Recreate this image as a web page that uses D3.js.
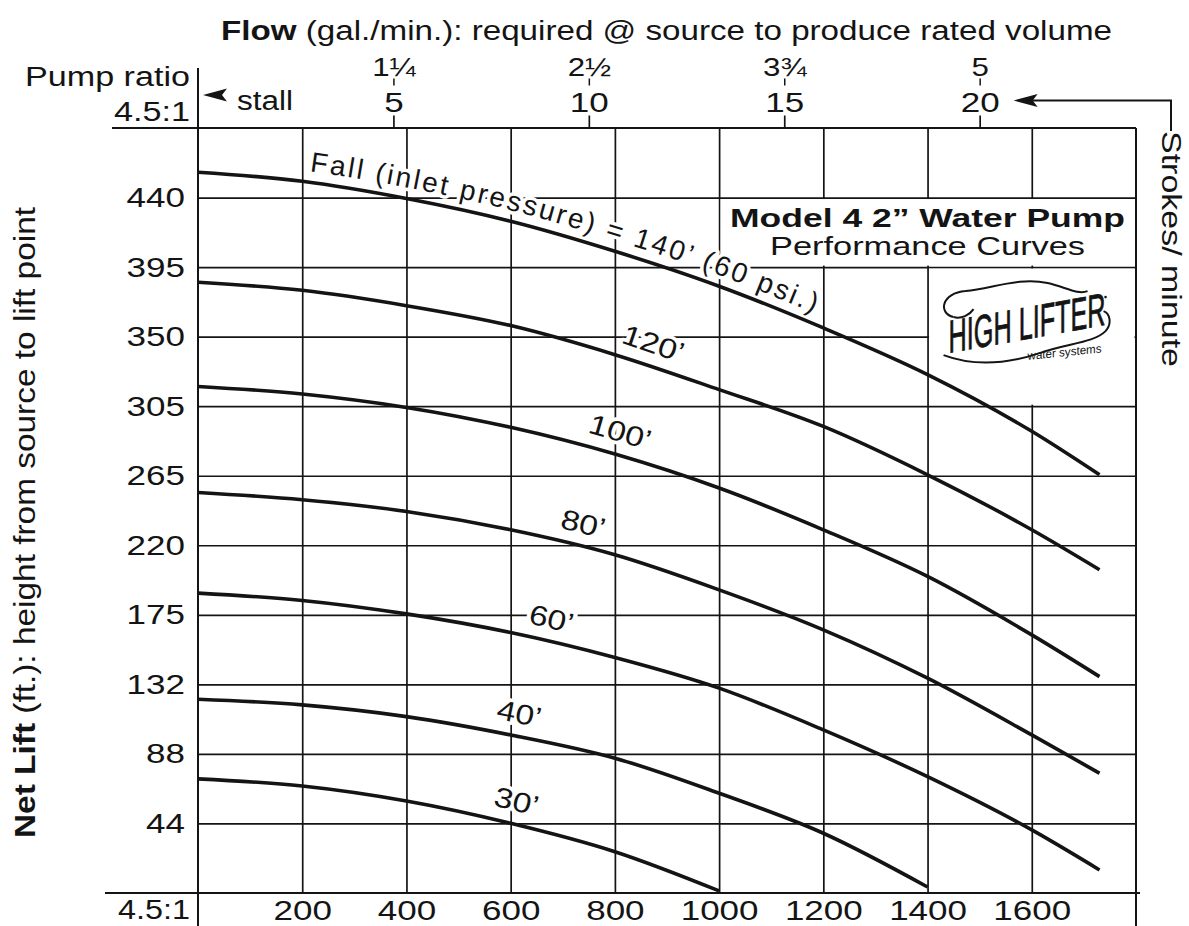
<!DOCTYPE html>
<html>
<head>
<meta charset="utf-8">
<script src="https://cdn.jsdelivr.net/npm/d3@7"></script>
<style>
  html, body { margin: 0; padding: 0; background: #fff; }
  svg { display: block; font-family: "Liberation Sans", Arial, Helvetica, sans-serif; }
</style>
</head>
<body>
<div id="chart"></div>
<script>
// flow positions where the curves were read, and net lift (ft) for each fall curve
const flowPts = [0, 200, 400, 600, 800, 1000, 1200, 1400, 1600, 1730];
const lift140 = [456.0, 450.3, 439.4, 425.0, 406.0, 383.9, 357.5, 328.0, 292.1, 264.6];
const lift120 = [386.4, 381.3, 371.6, 359.0, 340.6, 318.5, 295.2, 264.6, 229.8, 204.5];
const lift100 = [320.5, 315.7, 307.2, 294.6, 277.7, 256.2, 229.8, 200.3, 163.3, 136.9];
const lift80 = [253.4, 248.8, 241.4, 229.8, 214.0, 191.8, 166.5, 135.9, 100.0, 75.8];
const lift60 = [189.7, 185.1, 176.6, 164.8, 149.0, 129.6, 103.2, 73.6, 39.9, 14.6];
const lift40 = [122.6, 119.0, 111.6, 100.0, 85.3, 63.1, 37.8, 3.8];
const lift30 = [72.2, 67.7, 58.2, 44.1, 26.1, 1.3];

const curveLabels = ["120’", "100’", "80’", "60’", "40’", "30’"];
const labelFlow = [860, 798, 729, 668, 608, 601];

// axes
const flowTicks = [200, 400, 600, 800, 1000, 1200, 1400, 1600];
const liftTicks = [44, 88, 132, 176, 220, 264, 308, 352, 396, 440];
const liftLabels = ["44", "88", "132", "175", "220", "265", "305", "350", "395", "440"];
const strokeTicks = [5, 10, 15, 20];
const gpmLabels = ["1¼", "2½", "3¾", "5"];

const W = 1189, H = 926;
const pLeft = 198, pRight = 1136, pTop = 128, pBottom = 893;
const SX = 1.25; // the type in the original is set wide

const x = d3.scaleLinear().domain([0, 1800]).range([pLeft, pRight]);
const y = d3.scaleLinear().domain([0, 484]).range([pBottom, pTop]);
const xs = d3.scaleLinear().domain([0, 24]).range([pLeft, pRight]); // strokes/minute

const svg = d3.select("#chart").append("svg")
    .attr("width", W)
    .attr("height", H);

svg.append("rect").attr("width", W).attr("height", H).attr("fill", "#fff");

const ink = "#141414";

// ---- grid (bottom axis draws the verticals, left axis the horizontals)
const gx = svg.append("g")
    .attr("transform", "translate(0," + pBottom + ")")
    .call(d3.axisBottom(x).tickValues(flowTicks).tickFormat(d3.format("d"))
        .tickSizeInner(-(pBottom - pTop)).tickSizeOuter(0).tickPadding(7));
gx.select(".domain").remove();
gx.selectAll("line").attr("stroke", ink).attr("stroke-width", 1.7);
gx.selectAll("text")
    .attr("font-size", 28)
    .attr("fill", ink)
    .attr("font-family", null)
    .attr("transform", "scale(" + SX + ",1)");

const gy = svg.append("g")
    .attr("transform", "translate(" + pLeft + ",0)")
    .call(d3.axisLeft(y).tickValues(liftTicks)
        .tickFormat((d, i) => liftLabels[i])
        .tickSizeInner(-(pRight - pLeft)).tickSizeOuter(0).tickPadding(13));
gy.select(".domain").remove();
gy.selectAll("line").attr("stroke", ink).attr("stroke-width", 1.7);
gy.selectAll("text")
    .attr("font-size", 28)
    .attr("fill", ink)
    .attr("font-family", null)
    .attr("x", 0)
    .attr("transform", "translate(-13,0) scale(" + SX + ",1)");

// top axis: strokes per minute, with gal/min above
const gt = svg.append("g")
    .attr("transform", "translate(0," + (pTop - 0.5) + ")")
    .call(d3.axisTop(xs).tickValues(strokeTicks)
        .tickSizeInner(12).tickSizeOuter(0).tickPadding(4));
gt.select(".domain").remove();
gt.selectAll("line").attr("stroke", ink).attr("stroke-width", 1.7);
gt.selectAll("text")
    .attr("font-size", 28)
    .attr("fill", ink)
    .attr("font-family", null)
    .attr("transform", "scale(" + SX + ",1)");

const gg = svg.append("g")
    .attr("transform", "translate(0,85.5)")
    .call(d3.axisTop(xs).tickValues(strokeTicks)
        .tickFormat((d, i) => gpmLabels[i])
        .tickSizeInner(7).tickSizeOuter(0).tickPadding(3));
gg.select(".domain").remove();
gg.selectAll("line").attr("stroke", ink).attr("stroke-width", 1.5);
gg.selectAll("text")
    .attr("font-size", 25)
    .attr("fill", ink)
    .attr("font-family", null)
    .attr("transform", "scale(" + SX + ",1)");

// white panels for the title box and the logo (gridlines are cut there)
svg.append("rect")
    .attr("x", x(1000) + 1.5).attr("y", y(440) + 1.5)
    .attr("width", x(1800) - x(1000) - 3).attr("height", y(396) - y(440) - 3)
    .attr("fill", "#fff");
svg.append("rect")
    .attr("x", x(1400) + 1.5).attr("y", y(396) + 1.5)
    .attr("width", x(1800) - x(1400) - 3).attr("height", y(308) - y(396) - 3)
    .attr("fill", "#fff");

// ---- frame
const frame = svg.append("g").attr("stroke", ink).attr("stroke-width", 2).attr("fill", "none");
frame.append("line").attr("x1", 112).attr("x2", x(1800)).attr("y1", y(484)).attr("y2", y(484));
frame.append("line").attr("x1", x(0)).attr("x2", x(0)).attr("y1", 68).attr("y2", H);
frame.append("line").attr("x1", 105).attr("x2", x(1800) + 4).attr("y1", y(0)).attr("y2", y(0));
frame.append("line").attr("x1", x(1800)).attr("x2", x(1800)).attr("y1", y(484)).attr("y2", H);

// ---- texts
function txt(parent, s, px, py, size, anchor, len) {
    const t = parent.append("text")
        .attr("x", px).attr("y", py)
        .attr("font-size", size)
        .attr("text-anchor", anchor)
        .attr("fill", ink);
    if (len) t.attr("textLength", len).attr("lengthAdjust", "spacingAndGlyphs");
    if (s) t.text(s);
    return t;
}

const title = txt(svg, null, 221, 40, 27, "start", 891);
title.append("tspan").attr("font-weight", "bold").text("Flow");
title.append("tspan").text(" (gal./min.): required @ source to produce rated volume");

txt(svg, "Pump ratio", 190, 86, 27, "end", 165);
txt(svg, "4.5:1", 190, 121, 27, "end", 76);
txt(svg, "stall", 237, 110, 27, "start", 56);
txt(svg, "4.5:1", 190, 919, 27, "end", 72);

// arrows
function arrowHead(tx, ty, dir) {
    const p = d3.path();
    p.moveTo(tx, ty);
    p.lineTo(tx + dir * 24, ty - 6.5);
    p.lineTo(tx + dir * 19, ty);
    p.lineTo(tx + dir * 24, ty + 6.5);
    p.closePath();
    svg.append("path").attr("d", p.toString()).attr("fill", ink);
}
arrowHead(xs(0) + 5, 95, 1);
arrowHead(xs(20) + 34, 100.5, 1);
svg.append("path")
    .attr("d", "M" + (xs(20) + 50) + ",100.5 H1171 V131")
    .attr("fill", "none").attr("stroke", ink).attr("stroke-width", 2);

// right and left axis titles
txt(svg, "Strokes/ minute", 0, 0, 27, "start", 236)
    .attr("transform", "translate(1162,131) rotate(90)");

const ylab = txt(svg, null, 0, 0, 30, "start", 631)
    .attr("transform", "translate(35,838) rotate(-90)");
ylab.append("tspan").attr("font-weight", "bold").text("Net Lift");
ylab.append("tspan").text(" (ft.): height from source to lift point");

// title box
const boxX = (x(1000) + x(1800)) / 2;
txt(svg, "Model 4  2” Water Pump", boxX, 227, 25, "middle", 395).attr("font-weight", "bold");
txt(svg, "Performance Curves", boxX, 255, 25, "middle", 315);

// logo
const logo = svg.append("g").attr("transform", "translate(" + x(1400) + "," + y(396) + ")");
logo.append("g").attr("transform", "translate(21,86) skewY(-10.2)")
    .append("text")
    .attr("font-family", "'Liberation Sans Narrow', 'Liberation Sans', Arial, sans-serif")
    .attr("font-size", 46)
    .attr("textLength", 157).attr("lengthAdjust", "spacingAndGlyphs")
    .attr("fill", ink)
    .attr("stroke", ink).attr("stroke-width", 0.8)
    .text("HIGH LIFTER");
const sw = logo.append("g").attr("fill", "none").attr("stroke", ink).attr("stroke-width", 2);
sw.append("path").attr("d", "M26,50 C10,46 14,26 38,24 C66,21 92,10 120,16 C138,20 150,28 160,24");
sw.append("path").attr("d", "M26,50 C34,52 42,48 46,42");
sw.append("path").attr("d", "M16,88 C48,100 82,96 112,86 C140,76 166,76 178,64 C185,56 182,46 176,44");
logo.append("circle").attr("cx", 178).attr("cy", 30).attr("r", 1.3).attr("fill", ink);
logo.append("g").attr("transform", "translate(100,93) skewY(-6)")
    .append("text")
    .attr("font-size", 12)
    .attr("textLength", 74).attr("lengthAdjust", "spacingAndGlyphs")
    .attr("fill", ink)
    .text("water systems");

// ---- curves
const series = [lift140, lift120, lift100, lift80, lift60, lift40, lift30]
    .map(l => l.map((v, i) => ({f: flowPts[i], l: v})));

const line = d3.line()
    .x(d => x(d.f))
    .y(d => y(d.l))
    .curve(d3.curveMonotoneX);

// fall label along the top curve
const pathAbove = d3.line()
    .x(d => x(d.f))
    .y(d => y(d.l) - 11)
    .curve(d3.curveMonotoneX);
svg.append("path").attr("id", "fallPath").attr("d", pathAbove(series[0])).attr("fill", "none");

const halo = {stroke: "#fff", width: 7};
svg.append("text")
    .attr("font-size", 28)
    .attr("letter-spacing", 2.5)
    .attr("fill", ink)
    .attr("stroke", halo.stroke).attr("stroke-width", halo.width)
    .attr("stroke-linejoin", "round").attr("paint-order", "stroke")
    .append("textPath")
    .attr("href", "#fallPath")
    .attr("startOffset", 112)
    .text("Fall (inlet pressure) = 140’ (60 psi.)");

function liftAt(lifts, f) {
    return d3.scaleLinear().domain(flowPts.slice(0, lifts.length)).range(lifts)(f);
}

const lifts = [lift120, lift100, lift80, lift60, lift40, lift30];
curveLabels.forEach((name, i) => {
    const f = labelFlow[i], l = lifts[i];
    const a = Math.atan2(y(liftAt(l, f + 50)) - y(liftAt(l, f - 50)), x(f + 50) - x(f - 50)) * 180 / Math.PI;
    svg.append("text")
        .attr("transform", "translate(" + x(f) + "," + y(liftAt(l, f)) + ") rotate(" + a + ") translate(0,-23) scale(1.2,1)")
        .attr("text-anchor", "middle")
        .attr("dy", "0.35em")
        .attr("font-size", 28)
        .attr("fill", ink)
        .attr("stroke", halo.stroke).attr("stroke-width", halo.width)
        .attr("stroke-linejoin", "round").attr("paint-order", "stroke")
        .text(name);
});

svg.append("g")
    .selectAll("path")
    .data(series)
    .enter()
    .append("path")
    .attr("d", line)
    .attr("fill", "none")
    .attr("stroke", ink)
    .attr("stroke-width", 3.6);
</script>
</body>
</html>
